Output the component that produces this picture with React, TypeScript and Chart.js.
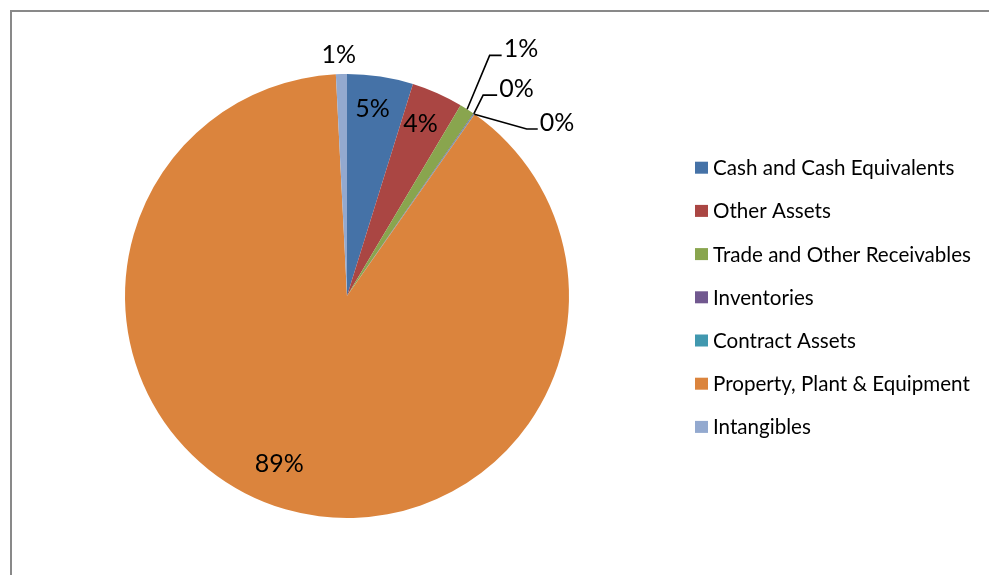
import React, { useEffect, useRef } from "react";
import { Chart, registerables } from "chart.js";

Chart.register(...registerables);

const categories = [
  "Cash and Cash Equivalents",
  "Other Assets",
  "Trade and Other Receivables",
  "Inventories",
  "Contract Assets",
  "Property, Plant & Equipment",
  "Intangibles",
];
const values = [4.8, 3.75, 1.1, 0.05, 0.05, 89.45, 0.8];

const sliceColors = ["#4572A7", "#AA4643", "#89A54E", "#71588F", "#4198AF", "#DB843D", "#93A9CF"];

// label placement rules relative to each slice's mid angle
const labelPlacement: any[] = [
  { mode: "in", rf: 0.855, da: -0.9 },
  { mode: "in", rf: 0.846, da: -1 },
  { mode: "leader", er: 1.26, ea: -2.1, hl: 12 },
  { mode: "leader", er: 1.093, ea: -0.7, hl: 14 },
  { mode: "leader", er: 1.105, ea: 12.1, hl: 11 },
  { mode: "in", rf: 0.813, da: 5.9 },
  { mode: "in", rf: 1.09, da: -0.5 },
];

const FONT = "Lato, 'Noto Sans', sans-serif";
const LABEL_SIZE = 25;
const LEGEND_SIZE = 20.6;

const decorPlugin = {
  id: "decor",
  beforeDraw(chart: any) {
    const ctx = chart.ctx;
    ctx.save();
    ctx.fillStyle = "#ffffff";
    ctx.fillRect(0, 0, chart.width, chart.height);
    ctx.strokeStyle = "#898989";
    ctx.lineWidth = 2;
    ctx.strokeRect(11, 11, 3000, 3000);
    ctx.restore();
  },
  afterDatasetsDraw(chart: any) {
    const ctx = chart.ctx;
    const meta = chart.getDatasetMeta(0);
    const data = chart.data.datasets[0].data as number[];
    const total = data.reduce((a: number, b: number) => a + b, 0);
    ctx.save();
    ctx.fillStyle = "#000000";
    ctx.strokeStyle = "#000000";
    ctx.font = `${LABEL_SIZE}px ${FONT}`;
    meta.data.forEach((arc: any, i: number) => {
      const p = arc.getProps(["x", "y", "startAngle", "endAngle", "outerRadius"], true);
      const mid = (p.startAngle + p.endAngle) / 2;
      const r = p.outerRadius;
      const text = Math.round((data[i] / total) * 100) + "%";
      const pl = labelPlacement[i];
      const rad = (d: number) => (d * Math.PI) / 180;
      if (pl.mode === "in") {
        const a = mid + rad(pl.da);
        const cx = p.x + r * pl.rf * Math.cos(a);
        const cy = p.y + r * pl.rf * Math.sin(a);
        ctx.textAlign = "center";
        ctx.textBaseline = "alphabetic";
        ctx.fillText(text, cx, cy + 0.36 * LABEL_SIZE);
      } else {
        const ax = p.x + r * Math.cos(mid);
        const ay = p.y + r * Math.sin(mid);
        const ea = mid + rad(pl.ea);
        const ex = p.x + r * pl.er * Math.cos(ea);
        const ey = p.y + r * pl.er * Math.sin(ea);
        ctx.lineWidth = 1.6;
        ctx.beginPath();
        ctx.moveTo(ax, ay);
        ctx.lineTo(ex, ey);
        ctx.lineTo(ex + pl.hl, ey);
        ctx.stroke();
        ctx.textAlign = "left";
        ctx.textBaseline = "alphabetic";
        ctx.fillText(text, ex + pl.hl + 2, ey + 2);
      }
    });

    // legend
    const lx = 695;
    const ly = 167.7;
    const step = 43.2;
    ctx.font = `${LEGEND_SIZE}px ${FONT}`;
    ctx.textAlign = "left";
    ctx.textBaseline = "alphabetic";
    chart.data.labels.forEach((lab: string, i: number) => {
      const cy = ly + i * step;
      ctx.fillStyle = sliceColors[i];
      ctx.fillRect(lx, cy - 6, 13, 12);
      ctx.fillStyle = "#000000";
      ctx.fillText(lab, lx + 18, cy + 0.36 * LEGEND_SIZE);
    });
    ctx.restore();
  },
};

export default function App() {
  const ref = useRef<HTMLCanvasElement | null>(null);
  useEffect(() => {
    if (!ref.current) return;
    const chart = new Chart(ref.current, {
      type: "pie",
      data: {
        labels: categories,
        datasets: [
          {
            data: values,
            backgroundColor: sliceColors,
            borderWidth: 0,
          },
        ],
      },
      options: {
        responsive: false,
        animation: false,
        layout: { padding: { left: 125, top: 74, right: 420, bottom: 57 } },
        plugins: {
          legend: { display: false },
          tooltip: { enabled: false },
        },
      },
      plugins: [decorPlugin],
    });
    return () => chart.destroy();
  }, []);
  return (
    <div style={{ position: "absolute", left: 0, top: 0, width: 989, height: 575, overflow: "hidden" }}>
      <canvas ref={ref} width={989} height={575} style={{ display: "block", width: 989, height: 575 }} />
    </div>
  );
}
